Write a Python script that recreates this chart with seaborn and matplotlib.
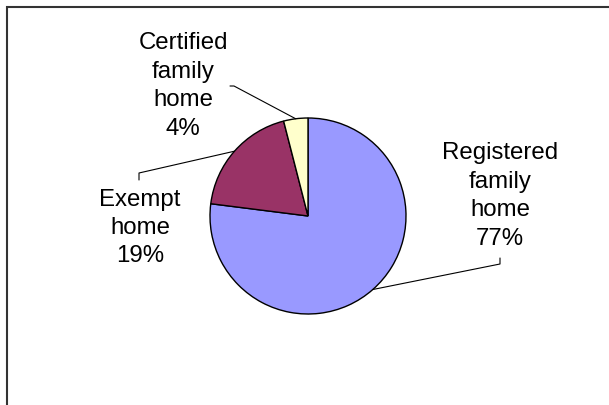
import numpy as np
import matplotlib
matplotlib.use("Agg")
import matplotlib.pyplot as plt
import seaborn as sns

# data
categories = ["Registered\nfamily\nhome", "Exempt\nhome", "Certified\nfamily\nhome"]
shares = [77, 19, 4]
colors = ["#9999FF", "#993366", "#FFFFCC"]

sns.set_theme(style="white")
plt.rcParams["font.family"] = ["Liberation Sans", "DejaVu Sans"]

fig = plt.figure(figsize=(6.09, 4.05), dpi=100)
ax = fig.add_axes([0, 0, 1, 1])

cx, cy, r = 308, 405 - 216, 98
wedges, _ = ax.pie(shares, colors=colors, startangle=90, counterclock=False,
                   center=(cx, cy), radius=r,
                   wedgeprops=dict(edgecolor="black", linewidth=1.0))
ax.set_xlim(0, 609)
ax.set_ylim(0, 405)
ax.set_aspect("equal")
ax.axis("off")

# label positions (pixel coords from top) and leader-line start points
label_pos = [(500, 196), (140, 228), (183, 86)]
leader_start = [[(500, 258), (500, 264)], [(139, 180), (139, 173)], [(230, 86), (234, 86)]]

for w, cat, val, (lx, ly), pts in zip(wedges, categories, shares, label_pos, leader_start):
    mid = np.deg2rad((w.theta1 + w.theta2) / 2)
    ex, ey = cx + r * np.cos(mid), cy + r * np.sin(mid)
    ax.text(lx, 405 - ly, f"{cat}\n{val}%", ha="center", va="center",
            fontsize=17.3, color="black", linespacing=1.38)
    xs = [p[0] for p in pts] + [ex]
    ys = [405 - p[1] for p in pts] + [ey]
    ax.plot(xs, ys, color="black", linewidth=0.8)

# chart border (top and left only visible)
ax.plot([7, 7, 612], [-5, 405 - 7, 405 - 7], color="#333333", linewidth=1.5,
        solid_joinstyle="miter")

fig.savefig("out.png", dpi=100, facecolor="white")
